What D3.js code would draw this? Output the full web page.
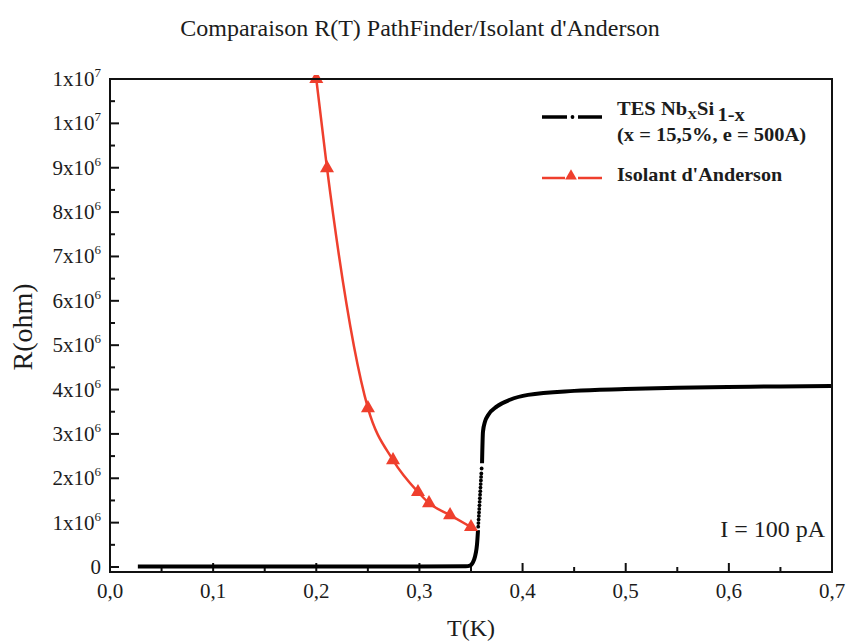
<!DOCTYPE html>
<html><head><meta charset="utf-8">
<script src="https://cdn.jsdelivr.net/npm/d3@7"></script>
<style>
body{margin:0;background:#fff;}
svg{display:block;}
text{font-family:"Liberation Serif","Times New Roman",serif;fill:#1c1c1c;}
</style>
</head><body>
<svg id="chart" width="847" height="641"></svg>
<script>
// ---------- data ----------
const chartTitle = "Comparaison R(T) PathFinder/Isolant d'Anderson";
const xTickValues = [0, 0.1, 0.2, 0.3, 0.4, 0.5, 0.6, 0.7];
const xTickLabels = ["0,0", "0,1", "0,2", "0,3", "0,4", "0,5", "0,6", "0,7"];
const xMinorTicks = [0.05, 0.15, 0.25, 0.35, 0.45, 0.55, 0.65];
const yTickValues = [0, 1e6, 2e6, 3e6, 4e6, 5e6, 6e6, 7e6, 8e6, 9e6, 1e7, 1.1e7];
const yTickBase = ["0", "1x10", "2x10", "3x10", "4x10", "5x10", "6x10", "7x10", "8x10", "9x10", "1x10", "1x10"];
const yTickExp  = ["", "6", "6", "6", "6", "6", "6", "6", "6", "6", "7", "7"];
const yMinorTicks = [0.5e6, 1.5e6, 2.5e6, 3.5e6, 4.5e6, 5.5e6, 6.5e6, 7.5e6, 8.5e6, 9.5e6, 10.5e6];

// TES NbxSi1-x (measured points, ohm)
const tesT = [0.027, 0.1, 0.2, 0.3, 0.345, 0.349, 0.3529, 0.3558, 0.3568,
  0.3570, 0.3572, 0.3574, 0.3576, 0.3578, 0.3580, 0.3582, 0.3584, 0.3586, 0.3588,
  0.3590, 0.3592, 0.3594, 0.3596, 0.3598, 0.3600, 0.3603, 0.3607,
  0.3616, 0.3636, 0.3665, 0.3752, 0.3878, 0.4053, 0.45, 0.4993, 0.55, 0.599, 0.65, 0.699];
const tesR = [10000, 10000, 10000, 10000, 15000, 30000, 160000, 500000, 830000,
  910000, 990000, 1070000, 1150000, 1230000, 1310000, 1390000, 1470000, 1550000, 1630000,
  1710000, 1790000, 1870000, 1950000, 2030000, 2110000, 2220000, 2340000,
  3050000, 3280000, 3420000, 3620000, 3770000, 3880000, 3970000, 4010000, 4040000, 4060000, 4070000, 4080000];

// Isolant d'Anderson
const andT = [0.2, 0.2104, 0.2501, 0.2744, 0.2986, 0.3093, 0.3297, 0.350];
const andR = [11.0e6, 8.99e6, 3.58e6, 2.41e6, 1.69e6, 1.44e6, 1.17e6, 0.90e6];

const legendLabels = ["(x = 15,5%, e = 500A)", "Isolant d'Anderson"];
const annotation = "I = 100 pA";

// ---------- layout ----------
const svg = d3.select("#chart");
const L = 110, R = 832, T = 79, B = 572;
const x = d3.scaleLinear().domain([0, 0.7]).range([L, R]);
const y = d3.scaleLinear().domain([0, 1.1e7]).range([567, T]);
const red = "#ef3f2d";

svg.append("rect").attr("width", 847).attr("height", 641).attr("fill", "#fff");

const defs = svg.append("defs");
defs.append("clipPath").attr("id", "plotclip")
  .append("rect").attr("x", L).attr("y", T).attr("width", R - L).attr("height", B - T);
defs.append("clipPath").attr("id", "markclip")
  .append("rect").attr("x", L).attr("y", T - 4).attr("width", R - L).attr("height", B - T + 4);

// title
svg.append("text").attr("x", 420).attr("y", 36).attr("text-anchor", "middle")
  .attr("font-size", 24).text(chartTitle);

// ticks (inward)
const tickG = svg.append("g").attr("stroke", "#111").attr("stroke-width", 2);
tickG.selectAll(".xt").data(xTickValues).join("line")
  .attr("x1", d => x(d)).attr("x2", d => x(d)).attr("y1", B).attr("y2", B - 9);
tickG.selectAll(".xm").data(xMinorTicks).join("line")
  .attr("x1", d => x(d)).attr("x2", d => x(d)).attr("y1", B).attr("y2", B - 5);
tickG.selectAll(".yt").data(yTickValues).join("line")
  .attr("x1", L).attr("x2", L + 9).attr("y1", d => y(d)).attr("y2", d => y(d));
tickG.selectAll(".ym").data(yMinorTicks).join("line")
  .attr("x1", L).attr("x2", L + 5).attr("y1", d => y(d)).attr("y2", d => y(d));

// tick labels
svg.selectAll(".xl").data(xTickValues).join("text")
  .attr("x", d => x(d)).attr("y", 598).attr("text-anchor", "middle")
  .attr("font-size", 21).text((d, i) => xTickLabels[i]);

const yl = svg.selectAll(".yl").data(yTickValues).join("text")
  .attr("x", 101).attr("y", d => y(d) + 7).attr("text-anchor", "end").attr("font-size", 21);
yl.append("tspan").text((d, i) => yTickBase[i]);
yl.append("tspan").attr("font-size", 13).attr("dy", -9).text((d, i) => yTickExp[i]);

// axis titles
svg.append("text").attr("x", 471).attr("y", 636).attr("text-anchor", "middle")
  .attr("font-size", 24).text("T(K)");
svg.append("text").attr("transform", "translate(32,327) rotate(-90)")
  .attr("text-anchor", "middle").attr("font-size", 28).text("R(ohm)");

// plot content
const plot = svg.append("g").attr("clip-path", "url(#plotclip)");
const tes = tesT.map((t, i) => ({t, r: tesR[i]}));
const isDot = d => d.r > 850000 && d.r < 2300000;
plot.append("path").datum(tes)
  .attr("fill", "none").attr("stroke", "#000").attr("stroke-width", 4).attr("stroke-linejoin", "round")
  .attr("d", d3.line().defined(d => !isDot(d)).x(d => x(d.t)).y(d => y(d.r)).curve(d3.curveMonotoneX));
plot.selectAll(".tesdot").data(tes.filter(isDot)).join("circle")
  .attr("cx", d => x(d.t)).attr("cy", d => y(d.r)).attr("r", 1.9).attr("fill", "#000");

const and = andT.map((t, i) => ({t, r: andR[i]}));
plot.append("path").datum(and)
  .attr("fill", "none").attr("stroke", red).attr("stroke-width", 2.5)
  .attr("d", d3.line().x(d => x(d.t)).y(d => y(d.r)).curve(d3.curveMonotoneX));
svg.append("g").attr("clip-path", "url(#markclip)")
  .selectAll(".andm").data(and).join("path")
  .attr("transform", d => `translate(${x(d.t)},${y(d.r)})`)
  .attr("d", d3.symbol(d3.symbolTriangle, 85)).attr("fill", red);

// frame
svg.append("rect").attr("x", L).attr("y", T).attr("width", R - L).attr("height", B - T)
  .attr("fill", "none").attr("stroke", "#111").attr("stroke-width", 2);

// legend
const lg = svg.append("g");
lg.append("line").attr("x1", 542).attr("x2", 567).attr("y1", 117).attr("y2", 117).attr("stroke", "#000").attr("stroke-width", 3.5);
lg.append("circle").attr("cx", 572.5).attr("cy", 117).attr("r", 1.9).attr("fill", "#000");
lg.append("line").attr("x1", 578).attr("x2", 602).attr("y1", 117).attr("y2", 117).attr("stroke", "#000").attr("stroke-width", 3.5);
const t1 = lg.append("text").attr("transform", "translate(617,115) scale(1.14,1)")
  .attr("font-size", 18).attr("font-weight", "bold");
t1.append("tspan").text("TES Nb");
t1.append("tspan").attr("font-size", 12).attr("dy", 4).text("X");
t1.append("tspan").attr("dy", -4).text("Si");
t1.append("tspan").attr("dy", 6).attr("dx", 3).text("1-x");
lg.append("text").attr("transform", "translate(617,141) scale(1.14,1)")
  .attr("font-size", 18).attr("font-weight", "bold").text(legendLabels[0]);

lg.append("line").attr("x1", 542).attr("x2", 565).attr("y1", 178).attr("y2", 178).attr("stroke", red).attr("stroke-width", 2.5);
lg.append("line").attr("x1", 578).attr("x2", 602).attr("y1", 178).attr("y2", 178).attr("stroke", red).attr("stroke-width", 2.5);
lg.append("path").attr("transform", "translate(571,176)").attr("d", d3.symbol(d3.symbolTriangle, 60)).attr("fill", red);
lg.append("text").attr("transform", "translate(617,181) scale(1.12,1)")
  .attr("font-size", 18).attr("font-weight", "bold").text(legendLabels[1]);

// annotation
svg.append("text").attr("x", 825).attr("y", 537).attr("text-anchor", "end").attr("font-size", 24).text(annotation);
</script>
</body></html>
